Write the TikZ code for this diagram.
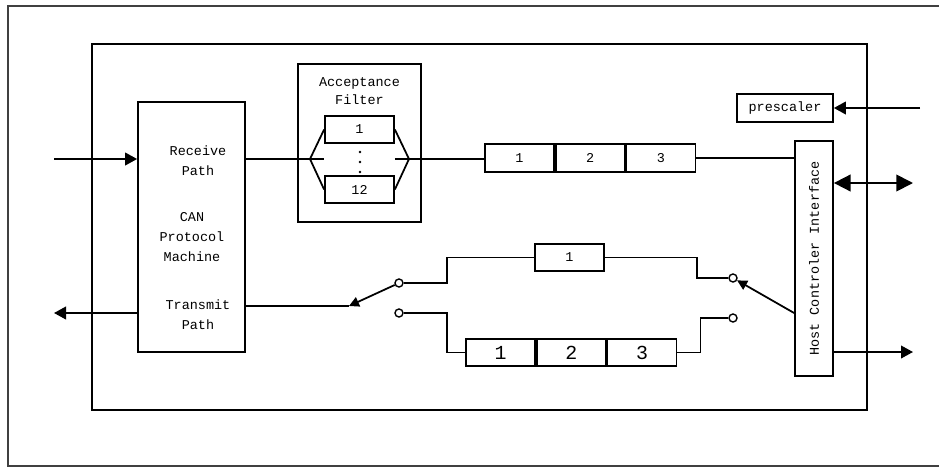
\documentclass[tikz,border=0pt]{standalone}
\usepackage{fontspec}
\setmainfont{Liberation Mono}
\usetikzlibrary{arrows.meta,positioning}

\begin{document}
\begin{tikzpicture}[
    x=0.03cm, y=-0.03cm,
    line width=1.5pt,
    lbl/.style={font=\fontsize{11.5pt}{17pt}\selectfont, align=center, inner sep=0pt},
    box/.style={draw, line width=1.5pt, inner sep=0pt},
    cell/.style={box, minimum width=2.07cm, minimum height=0.84cm, font=\fontsize{11.5pt}{14pt}\selectfont},
    bigcell/.style={cell, minimum height=0.81cm, font=\fontsize{17pt}{20pt}\selectfont},
    contact/.style={circle, draw, fill=white, line width=1.2pt, inner sep=0pt, minimum size=0.24cm},
    arrow/.style={-{Triangle[length=0.36cm, width=0.38cm]}},
    bigarrow/.style={{Triangle[length=0.5cm, width=0.5cm]}-{Triangle[length=0.5cm, width=0.5cm]}},
    swarrow/.style={-{Triangle[length=0.3cm, width=0.3cm]}},
    frame/.style={draw=black!75, line width=1.6pt}
  ]
    \useasboundingbox (0,0) rectangle (939,467);
    \draw[frame] (939,6) -- (8,6) -- (8,466) -- (939,466);

    % chip and main blocks
    \node[box, minimum width=23.25cm, minimum height=10.98cm] (chip) at (479.5,227) {};
    \node[box, minimum width=3.21cm, minimum height=7.5cm] (can) at (191.5,227) {};
    \node[lbl] (canRx) at (198,161) {Receive\\Path};
    \node[lbl] (canMid) at (192,237) {CAN\\Protocol\\Machine};
    \node[lbl] (canTx) at (198,315) {Transmit\\Path};

    % acceptance filter
    \node[box, minimum width=3.69cm, minimum height=4.74cm] (filter) at (359.5,143) {};
    \node[lbl, font=\fontsize{11.5pt}{15.3pt}\selectfont] (filterTitle) at (359.5,91) {Acceptance\\Filter};
    \node[cell, minimum height=0.81cm] (flt1) at (359.5,129.5) {1};
    \node[cell, minimum height=0.81cm] (flt12) at (359.5,189.5) {12};
    \foreach \dy in {152,162,172}
      \fill (360,\dy) circle (0.04cm);
    \coordinate (fL) at (310,159);
    \coordinate (fR) at (409,159);

    % receive buffer
    \node[cell] (rq1) at (519.5,158) {1};
    \node[cell, right=0pt of rq1] (rq2) {2};
    \node[cell, right=0pt of rq2] (rq3) {3};

    % host side
    \node[box, minimum width=2.88cm, minimum height=0.84cm, lbl] (presc) at (785,108) {prescaler};
    \node[box, minimum width=1.14cm, minimum height=7.05cm] (hci) at (814,258.5) {};
    \node[lbl, rotate=90] (hciText) at (814,258.5) {Host Controler Interface};

    % transmit buffers
    \node[cell, minimum height=0.81cm] (tb1) at (569.5,257.5) {1};
    \node[bigcell] (tq1) at (500.5,352.5) {1};
    \node[bigcell, right=0pt of tq1] (tq2) {2};
    \node[bigcell, right=0pt of tq2] (tq3) {3};

    % switch contacts
    \node[contact] (swA) at (399,283) {};
    \node[contact] (swB) at (399,313) {};
    \node[contact] (swC) at (733,278) {};
    \node[contact] (swD) at (733,318) {};
    \coordinate (swP) at (349,306);

    % outside ends
    \coordinate (rxIn) at (54,159);
    \coordinate (txOut) at (54,313);
    \coordinate (clkIn) at (920,108);
    \coordinate (busEnd) at (913,183);
    \coordinate (irqEnd) at (913,352);

    % receive path
    \draw[arrow] (rxIn) -- (can.west |- rxIn);
    \draw (can.east |- fL) -- (fL);
    \draw (flt1.west) -- (fL) -- (flt12.west);
    \draw (fL) -- (flt1.west |- fL);
    \draw (flt1.east) -- (fR) -- (flt12.east);
    \draw (flt1.east |- fR) -- (fR) -- (rq1.west |- fR);
    \draw (rq3.east) -- (hci.west |- rq3.east);

    % host connections
    \draw[arrow] (clkIn) -- (presc.east);
    \draw[bigarrow] (hci.east |- busEnd) -- (busEnd);
    \draw[arrow] (hci.east |- irqEnd) -- (irqEnd);

    % transmit path
    \draw[arrow] (can.west |- txOut) -- (txOut);
    \draw (can.east |- swP) -- (swP);
    \draw[swarrow] (swA) -- (swP);
    \draw (swA) -- ++(48,0) |- (tb1.west);
    \draw (tb1.east) -- ++(92,0) |- (swC);
    \draw (swB) -- ++(48,0) |- (tq1.west);
    \draw (tq3.east) -- ++(23,0) |- (swD);
    \draw[swarrow] (hci.west |- swB) -- (swC);
  \end{tikzpicture}
\end{document}
